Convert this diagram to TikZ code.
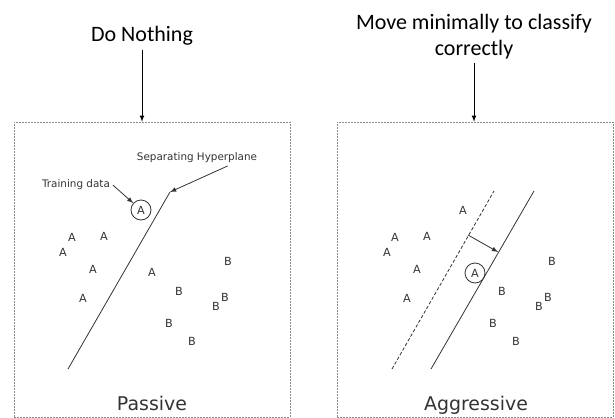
\documentclass[tikz,border=0pt]{standalone}
\usepackage{fontspec}
\newfontfamily\titlefont{Carlito}
\newfontfamily\plotfont{DejaVu Sans}
\definecolor{ink}{HTML}{333333}
\definecolor{frame}{HTML}{8C8C8C}

\begin{document}
\begin{tikzpicture}[
		x=0.75pt,y=-0.75pt,
		title/.style={font=\titlefont\fontsize{16.5}{19.5}\selectfont,align=center,inner sep=3pt},
		panel/.style={draw=frame,dash pattern=on 1.5pt off 0.75pt,minimum width=207pt,minimum height=221.25pt,inner sep=0pt},
		pt/.style={font=\plotfont\fontsize{8.4}{10}\selectfont,text=ink,inner sep=1pt},
		circ/.style={pt,draw=ink,circle,minimum size=15pt,inner sep=0pt,line width=0.6pt},
		note/.style={font=\plotfont\fontsize{7.8}{9}\selectfont,text=ink,inner sep=2pt},
		heading/.style={font=\plotfont\fontsize{14.2}{16}\selectfont,text=ink,anchor=base},
		arr/.style={-latex,line width=0.6pt},
		small/.style={-latex,draw=ink,line width=0.6pt},
		plane/.style={draw=ink,line width=0.6pt},
		old/.style={plane,dash pattern=on 2.5pt off 1.5pt}
		]
		\useasboundingbox (0,0) rectangle (615,418);

		% titles and panels
		\node[title] (t1) at (142,36) {Do Nothing};
		\node[title] (t2) at (474,36.5) {Move minimally to classify\\correctly};
		\node[panel] (p) at (152,269.5) {};
		\node[panel] (g) at (475,269.5) {};
		\draw[arr] (t1.south) to (t1.south |- p.north);
		\draw[arr] (t2.south) to (t2.south |- g.north);

		% passive
		\node[pt] (pa1) at (72,237) {A};
		\node[pt] (pa2) at (104,236) {A};
		\node[pt] (pa3) at (63,252) {A};
		\node[pt] (pa4) at (93,269) {A};
		\node[pt] (pa5) at (83,298) {A};
		\node[pt] (pa6) at (152,272) {A};
		\node[pt] (pb1) at (228,261) {B};
		\node[pt] (pb2) at (179,291) {B};
		\node[pt] (pb3) at (225,297) {B};
		\node[pt] (pb4) at (216,306) {B};
		\node[pt] (pb5) at (169,323) {B};
		\node[pt] (pb6) at (192,341) {B};
		\node[circ] (pc) at (141,210) {A};
		\node[note] (train) at (76,185) {Training data};
		\node[note] (sep) at (197,158) {Separating Hyperplane};
		\coordinate (h0) at (68,369);
		\coordinate (h1) at (170,192);
		\draw[plane] (h0) to (h1);
		\draw[small] (train.east) to (pc);
		\draw[small] ([xshift=23pt]sep.south) to (h1);
		\node[heading] (pname) at (152,410) {Passive};

		% aggressive
		\node[pt] (ga1) at (395,237) {A};
		\node[pt] (ga2) at (427,236) {A};
		\node[pt] (ga3) at (387,252) {A};
		\node[pt] (ga4) at (417,269) {A};
		\node[pt] (ga5) at (407,298) {A};
		\node[pt] (ga6) at (463,210) {A};
		\node[pt] (gb1) at (552,261) {B};
		\node[pt] (gb2) at (502,291) {B};
		\node[pt] (gb3) at (548,297) {B};
		\node[pt] (gb4) at (539,306) {B};
		\node[pt] (gb5) at (493,323) {B};
		\node[pt] (gb6) at (516,341) {B};
		\node[circ] (gc) at (475,273) {A};
		\coordinate (d0) at (392,369);
		\coordinate (d1) at (494,191);
		\coordinate (s0) at (431,369);
		\coordinate (s1) at (534,191);
		\coordinate (m0) at (468,235);
		\coordinate (m1) at (498,252);
		\draw[old] (d0) to (d1);
		\draw[plane] (s0) to (s1);
		\draw[small] (m0) to (m1);
		\node[heading] (gname) at (476,410) {Aggressive};
	\end{tikzpicture}
\end{document}
